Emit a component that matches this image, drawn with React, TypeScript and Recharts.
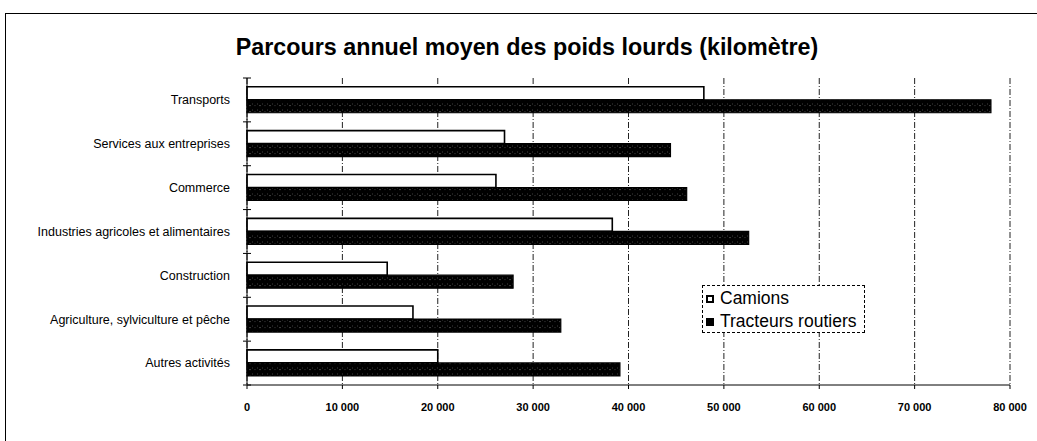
import {
  Bar,
  BarChart,
  CartesianGrid,
  XAxis,
  YAxis,
} from "recharts";

const categories = [
  "Transports",
  "Services aux entreprises",
  "Commerce",
  "Industries agricoles et alimentaires",
  "Construction",
  "Agriculture, sylviculture et pêche",
  "Autres activités",
];
const camions = [47900, 27000, 26100, 38300, 14700, 17400, 20000];
const tracteurs = [78000, 44400, 46100, 52600, 27900, 32900, 39100];
const xTicks = [0, 10000, 20000, 30000, 40000, 50000, 60000, 70000, 80000];

const data = categories.map((name, i) => ({
  name,
  camions: camions[i],
  tracteurs: tracteurs[i],
}));

const W = 1037;
const H = 441;
const PLOT_LEFT = 247;
const PLOT_TOP = 78;
const PLOT_BOTTOM = 385;
const BAND = (PLOT_BOTTOM - PLOT_TOP) / categories.length;
const FONT = "'Liberation Sans', Arial, sans-serif";

function fmt(v: number) {
  if (v === 0) return "0";
  return `${Math.round(v / 1000)} 000`;
}

function CategoryTick(props: any) {
  const { x, y, payload, index } = props;
  const last = index === categories.length - 1;
  return (
    <g>
      <text x={x} y={y} dy="0.35em" textAnchor="end" fontSize={12.5} fontFamily={FONT} fill="#000">
        {payload.value}
      </text>
      <line x1={PLOT_LEFT - 4} x2={PLOT_LEFT + 4} y1={y - BAND / 2} y2={y - BAND / 2} stroke="#000" />
      {last && (
        <line x1={PLOT_LEFT - 4} x2={PLOT_LEFT + 4} y1={y + BAND / 2} y2={y + BAND / 2} stroke="#000" />
      )}
    </g>
  );
}

function LegendBox() {
  return (
    <div
      style={{
        position: "absolute",
        left: 702,
        top: 285,
        border: "1px dashed #000",
        width: 163,
        height: 48,
        padding: "1px 0 0 3px",
        fontFamily: FONT,
        fontSize: 17.5,
        lineHeight: "23px",
        background: "#fff",
        boxSizing: "border-box",
      }}
    >
      <div style={{ display: "flex", alignItems: "center" }}>
        <span style={{ width: 4, height: 4, border: "2px solid #000", background: "#fff", marginRight: 6 }} />
        Camions
      </div>
      <div style={{ display: "flex", alignItems: "center" }}>
        <span style={{ width: 8, height: 8, background: "#000", marginRight: 6 }} />
        Tracteurs routiers
      </div>
    </div>
  );
}

export default function App() {
  return (
    <div style={{ position: "absolute", left: 0, top: 0, width: W, height: H, overflow: "hidden", background: "#fff" }}>
      <div
        style={{
          position: "absolute",
          left: 5,
          top: 13,
          width: W,
          height: H,
          borderLeft: "1px solid #000",
          borderTop: "1.5px solid #000",
        }}
      />
      <div
        style={{
          position: "absolute",
          left: 0,
          width: 1054,
          top: 34,
          textAlign: "center",
          fontFamily: FONT,
          fontWeight: "bold",
          fontSize: 23.3,
          lineHeight: "26px",
        }}
      >
        Parcours annuel moyen des poids lourds (kilomètre)
      </div>
      <div style={{ position: "absolute", left: 0, top: 0 }}>
        <BarChart
          width={W}
          height={H}
          data={data}
          layout="vertical"
          margin={{ top: PLOT_TOP, right: 27, bottom: 26, left: 0 }}
          barCategoryGap="20%"
          barGap={0}
        >
          <defs>
            <pattern id="hatch" width="10" height="6" patternUnits="userSpaceOnUse">
              <rect width="10" height="6" fill="#000" />
              <path
                d="M0 4 L2.5 2 L5 4 L7.5 2 L10 4"
                stroke="#fff"
                strokeWidth="0.5"
                strokeDasharray="0.8 2.2"
                strokeOpacity="0.8"
                fill="none"
              />
            </pattern>
          </defs>
          <CartesianGrid horizontal={false} stroke="#222" strokeDasharray="6 2 1 2" />
          <XAxis
            type="number"
            domain={[0, 80000]}
            ticks={xTicks}
            tickFormatter={fmt}
            height={30}
            tickSize={4}
            tickMargin={14}
            stroke="#000"
            tick={{ fontSize: 11, fontWeight: "bold", fontFamily: FONT, fill: "#000" }}
            interval={0}
          />
          <YAxis
            type="category"
            dataKey="name"
            width={PLOT_LEFT}
            tick={<CategoryTick />}
            tickLine={false}
            tickMargin={11}
            stroke="#000"
            interval={0}
          />
          <Bar
            dataKey="camions"
            name="Camions"
            fill="#fff"
            stroke="#000"
            strokeWidth={1.6}
            isAnimationActive={false}
          />
          <Bar
            dataKey="tracteurs"
            name="Tracteurs routiers"
            fill="url(#hatch)"
            stroke="#000"
            strokeWidth={1.2}
            isAnimationActive={false}
          />
        </BarChart>
      </div>
      <LegendBox />
    </div>
  );
}
